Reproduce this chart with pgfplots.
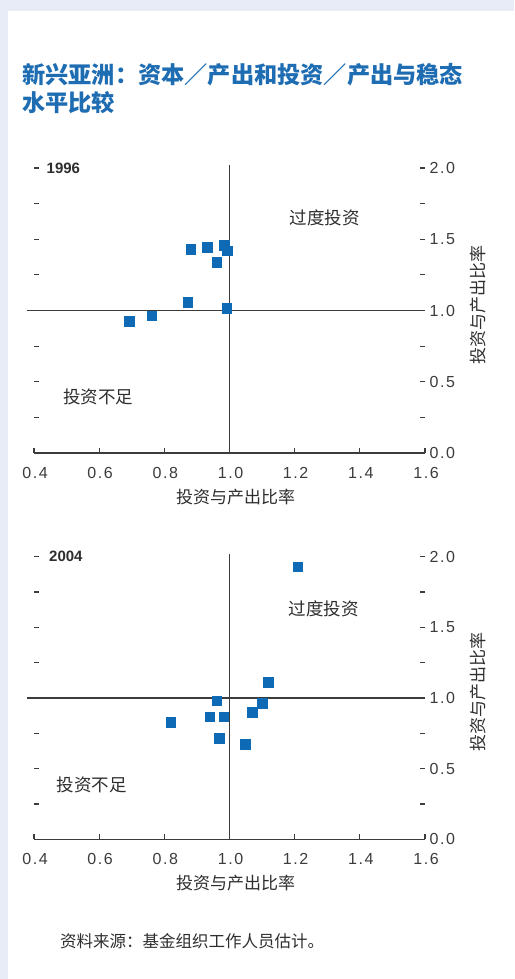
\documentclass[border=0pt]{standalone}
\usepackage{pgfplots}
\pgfplotsset{compat=1.18}
\usepackage{fontspec}
\setmainfont{Liberation Sans}
\newfontfamily\cjk{Noto Sans CJK SC}
\newfontfamily\numfont[LetterSpace=10]{Liberation Sans}
\definecolor{bgblue}{HTML}{E8ECF7}
\definecolor{ttlblue}{HTML}{1E6DB3}
\definecolor{mkblue}{HTML}{0E6AB5}
\definecolor{axgray}{HTML}{3C3C3C}
\definecolor{txtgray}{HTML}{2E2E2E}

\pgfplotsset{
  quad/.style={
    scale only axis, width=391pt,
    xmin=0.4, xmax=1.6, ymin=0, ymax=2,
    axis line style={draw=none},
    clip=false,
    xtick={0.4,0.6,0.8,1.0,1.2,1.4,1.6},
    ytick={0,0.5,1,1.5,2},
    minor ytick={0.25,0.75,1.25,1.75},
    xtick pos=left, ytick pos=both, yticklabel pos=right,
    tick align=inside,
    major tick length=5pt, minor tick length=5pt,
    every tick/.style={axgray, line width=1.1pt},
    /pgf/number format/assume math mode=true,
    /pgf/number format/fixed, /pgf/number format/fixed zerofill, /pgf/number format/precision=1,
    ticklabel style={font=\numfont\fontsize{16}{16}\selectfont, text=axgray},
    xticklabel style={yshift=-10pt, xshift=1pt, text height=11.5pt, text depth=0pt},
    yticklabel style={xshift=1pt},
    every axis x label/.style={at={(rel axis cs:0.5,0)}, yshift=-44pt, xshift=6pt, anchor=center},
    every axis y label/.style={at={(rel axis cs:1,0.52)}, xshift=53pt, rotate=90, anchor=center},
    label style={font=\cjk\fontsize{17}{17}\selectfont, text=txtgray},
    xlabel={投资与产出比率},
    ylabel={投资与产出比率},
  }
}

\begin{document}
\begin{tikzpicture}
\fill[bgblue] (0,0) rectangle (514pt,-979pt);
\fill[white] (8pt,-11pt) rectangle (514pt,-979pt);
\useasboundingbox (0,0) rectangle (514pt,-979pt);

\node[anchor=base west, font=\cjk\bfseries\fontsize{23.2}{23.2}\selectfont, text=ttlblue, inner sep=0pt] at (22pt,-83.8pt) {新兴亚洲：资本／产出和投资／产出与稳态};
\node[anchor=base west, font=\cjk\bfseries\fontsize{23.2}{23.2}\selectfont, text=ttlblue, inner sep=0pt] at (22pt,-111.8pt) {水平比较};

% 1996
\begin{axis}[quad, height=285pt, at={(34pt,-453pt)}, anchor=south west]
\draw[axgray, line width=1.1pt] (axis cs:0.4,0) -- (axis cs:1.6,0);
\draw[axgray, line width=1.1pt] (axis cs:0.378,1) -- (axis cs:1.6,1);
\draw[axgray, line width=1.1pt] (axis cs:1,0) -- (axis cs:1,2.02);
\addplot[only marks, mark=square*, mark size=4.8pt, mark options={fill=mkblue, draw=mkblue}] coordinates {
(0.881,1.430) (0.932,1.443) (0.983,1.457) (0.993,1.420) (0.961,1.338)
(0.872,1.057) (0.991,1.015) (0.761,0.963) (0.693,0.924)
};
\node[anchor=west, font=\bfseries\fontsize{15}{15}\selectfont, text=txtgray, inner sep=0pt] at (axis cs:0.4,2) [xshift=12.5pt] {1996};
\node[font=\cjk\fontsize{17.5}{17.5}\selectfont, text=txtgray] at (axis cs:1.293,1.649) {过度投资};
\node[font=\cjk\fontsize{17.5}{17.5}\selectfont, text=txtgray] at (axis cs:0.597,0.395) {投资不足};
\end{axis}

% 2004
\begin{axis}[quad, height=282.6pt, at={(34pt,-839.3pt)}, anchor=south west]
\draw[axgray, line width=1.1pt] (axis cs:0.4,0) -- (axis cs:1.6,0);
\draw[axgray, line width=1.1pt] (axis cs:0.378,1) -- (axis cs:1.6,1);
\draw[axgray, line width=1.1pt] (axis cs:1,0) -- (axis cs:1,2.02);
\addplot[only marks, mark=square*, mark size=4.8pt, mark options={fill=mkblue, draw=mkblue}] coordinates {
(1.209,1.929) (1.119,1.113) (0.961,0.981) (1.101,0.962) (1.070,0.899)
(0.939,0.868) (0.982,0.868) (0.820,0.828) (0.969,0.715) (1.049,0.674)
};
\node[anchor=west, font=\bfseries\fontsize{15}{15}\selectfont, text=txtgray, inner sep=0pt] at (axis cs:0.4,2) [xshift=15pt] {2004};
\node[font=\cjk\fontsize{17.5}{17.5}\selectfont, text=txtgray] at (axis cs:1.29,1.63) {过度投资};
\node[font=\cjk\fontsize{17.5}{17.5}\selectfont, text=txtgray] at (axis cs:0.577,0.384) {投资不足};
\end{axis}

\node[anchor=base west, font=\cjk\fontsize{16.5}{16.5}\selectfont, text=txtgray, inner sep=0pt] at (60pt,-947.7pt) {资料来源：基金组织工作人员估计。};
\end{tikzpicture}
\end{document}
